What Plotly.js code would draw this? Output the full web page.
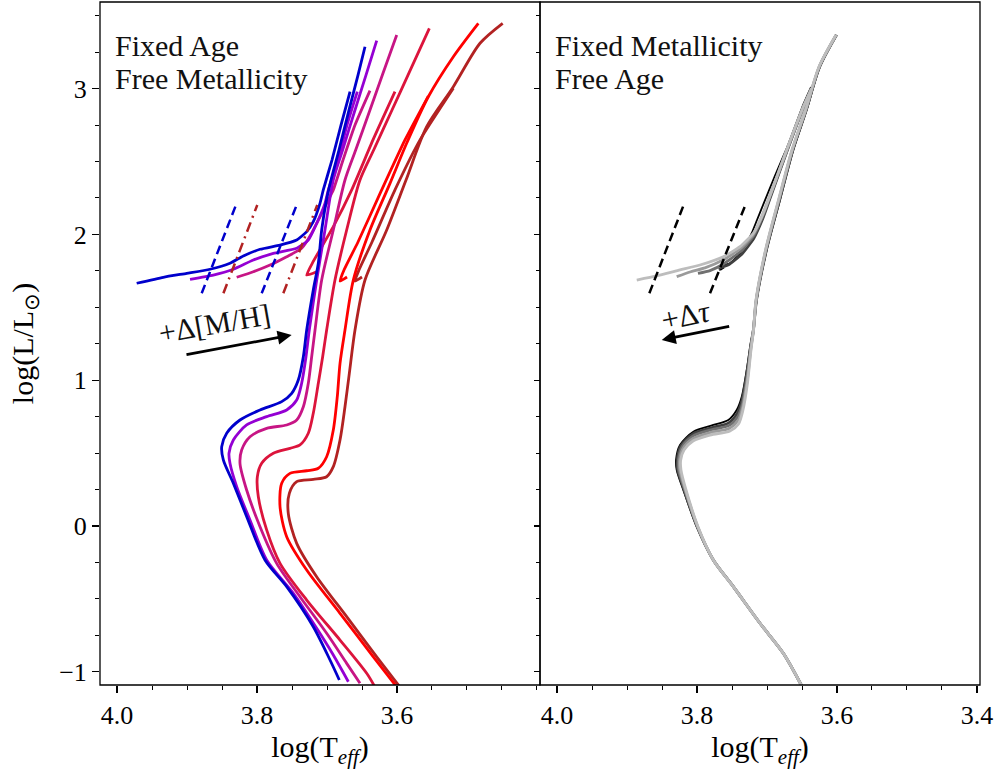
<!DOCTYPE html>
<html>
<head>
<meta charset="utf-8">
<script src="https://cdn.plot.ly/plotly-3.0.1.min.js"></script>
<style>
  html, body { margin: 0; padding: 0; background: #fff; }
  #chart { width: 1000px; height: 770px; }
</style>
</head>
<body>
<div id="chart"></div>
<script>
// ---- Fixed age, free metallicity: main sequence -> RGB tracks (log Teff, log L) ----
const blueMainT = [3.6824,3.6957,3.7196,3.7576,3.7886,3.8147,3.8338,3.8481,3.8504,3.8433,3.8243,3.7957,3.7647,3.7504,3.7410,3.7338,3.7290,3.7196,3.7124,3.7076,3.7007,3.6943,3.6829,3.6686,3.6557,3.6457];
const blueMainL = [-1.056,-0.919,-0.691,-0.416,-0.233,0.064,0.293,0.453,0.544,0.636,0.727,0.796,0.853,0.910,1.001,1.161,1.344,1.619,1.802,2.030,2.236,2.373,2.579,2.853,3.093,3.287];
const violetMainT = [3.6695,3.6910,3.7147,3.7481,3.7862,3.8100,3.8290,3.8386,3.8400,3.8338,3.8148,3.7862,3.7576,3.7433,3.7362,3.7300,3.7253,3.7147,3.7029,3.6910,3.6777,3.6600,3.6443,3.6290];
const violetMainL = [-1.068,-0.885,-0.702,-0.462,-0.233,0.041,0.270,0.430,0.499,0.590,0.693,0.750,0.796,0.864,0.979,1.161,1.344,1.687,2.030,2.373,2.579,2.853,3.093,3.329];
const magentaMainT = [3.6529,3.6719,3.7005,3.7386,3.7719,3.7957,3.8148,3.8243,3.8219,3.8100,3.7862,3.7576,3.7433,3.7338,3.7267,3.7219,3.7171,3.7076,3.6910,3.6743,3.6590,3.6386,3.6209,3.6004];
const magentaMainL = [-1.079,-0.942,-0.736,-0.485,-0.256,-0.005,0.247,0.430,0.521,0.612,0.670,0.693,0.727,0.818,0.979,1.161,1.344,1.687,2.030,2.373,2.579,2.853,3.093,3.368];
const crimsonMainT = [3.6320,3.6433,3.6814,3.7290,3.7671,3.7862,3.7981,3.7995,3.7933,3.7767,3.7529,3.7386,3.7267,3.7196,3.7124,3.7062,3.7005,3.6886,3.6719,3.6529,3.6333,3.6071,3.5843,3.5538];
const crimsonMainL = [-1.10,-1.010,-0.782,-0.508,-0.256,-0.027,0.201,0.338,0.430,0.499,0.533,0.556,0.636,0.773,0.979,1.161,1.344,1.687,2.030,2.373,2.579,2.853,3.093,3.413];
const redMainT = [3.6010,3.6338,3.6814,3.7290,3.7576,3.7671,3.7647,3.7529,3.7290,3.7124,3.7005,3.6910,3.6853,3.6814,3.6743,3.6624,3.6386,3.6100,3.5862,3.5553,3.5195,3.4838];
const redMainL = [-1.10,-0.897,-0.599,-0.302,-0.073,0.132,0.293,0.361,0.379,0.396,0.475,0.658,0.887,1.116,1.344,1.687,2.030,2.350,2.625,2.944,3.219,3.448];
const brownMainT = [3.5965,3.6290,3.6719,3.7148,3.7433,3.7553,3.7538,3.7433,3.7195,3.7005,3.6910,3.6814,3.6743,3.6681,3.6600,3.6457,3.6147,3.5871,3.5576,3.5195,3.4814,3.4490];
const brownMainL = [-1.10,-0.897,-0.622,-0.348,-0.119,0.087,0.224,0.304,0.320,0.338,0.407,0.590,0.818,1.047,1.344,1.687,2.030,2.373,2.739,3.013,3.311,3.448];

// ---- Fixed age: horizontal branch -> AGB tracks ----
const blueHbT = [3.9719,3.9339,3.9004,3.8671,3.8386,3.8195,3.7957,3.7671,3.7433,3.7290,3.7196,3.7100,3.7053,3.6929,3.6800,3.6671];
const blueHbL = [1.665,1.706,1.733,1.761,1.802,1.852,1.898,1.927,1.962,2.019,2.087,2.213,2.305,2.510,2.750,2.979];
const violetHbT = [3.8957,3.8624,3.8338,3.8053,3.7767,3.7433,3.7267,3.7147,3.7029,3.6981,3.6843,3.6714,3.6567];
const violetHbL = [1.692,1.721,1.761,1.824,1.870,1.905,1.961,2.076,2.213,2.305,2.510,2.750,2.979];
const magentaHbT = [3.8290,3.8053,3.7814,3.7576,3.7362,3.7219,3.7100,3.6981,3.6910,3.6771,3.6600,3.6386];
const magentaHbL = [1.706,1.744,1.790,1.847,1.905,2.008,2.121,2.236,2.305,2.510,2.750,2.986];
const crimsonHbT = [3.7147,3.7290,3.7200,3.6910,3.6647,3.6343,3.6029];
const crimsonHbL = [1.744,1.721,1.811,2.053,2.305,2.648,2.979];
const redHbT = [3.6714,3.6814,3.6757,3.6557,3.6219,3.5886,3.5553];
const redHbL = [1.708,1.680,1.756,1.948,2.305,2.648,2.949];
const brownHbT = [3.6500,3.6600,3.6543,3.6357,3.6029,3.5671,3.5195];
const brownHbL = [1.708,1.680,1.756,1.948,2.305,2.648,3.002];

// ---- Instability strip edges ----
const stripL = [1.596, 2.202];
const blueStripBlueT = [3.879, 3.830];
const blueStripRedT = [3.7933, 3.7433];
const brownStripBlueT = [3.848, 3.7996];
const brownStripRedT = [3.7624, 3.7139];
const greyStripL = [1.596, 2.195];
const greyStripBlueT = [3.8681, 3.8196];
const greyStripRedT = [3.7814, 3.7314];

// ---- Fixed metallicity, free age: main sequence -> RGB ----
const age1MainT = [3.650,3.6767,3.7100,3.7481,3.7767,3.8004,3.8196,3.8290,3.8300,3.8243,3.8053,3.7767,3.7553,3.7433,3.7361,3.7290,3.7233,3.7196,3.7147,3.7004,3.6814,3.6624,3.6433,3.6243,3.6004];
const age1MainL = [-1.10,-0.873,-0.667,-0.416,-0.233,-0.005,0.247,0.384,0.453,0.556,0.647,0.693,0.727,0.796,0.887,1.070,1.253,1.344,1.550,1.893,2.236,2.579,2.853,3.150,3.368];
const age2MainT = [3.650,3.6767,3.7100,3.7481,3.7767,3.7999,3.8185,3.8276,3.8283,3.8229,3.8055,3.7781,3.7547,3.7426,3.7357,3.7288,3.7232,3.7195,3.7150,3.7008,3.6820,3.6630,3.6440,3.6248,3.6008];
const age2MainL = [-1.10,-0.873,-0.667,-0.416,-0.233,-0.005,0.247,0.384,0.453,0.550,0.633,0.675,0.707,0.772,0.864,1.049,1.240,1.344,1.550,1.893,2.236,2.579,2.853,3.150,3.368];
const age3MainT = [3.650,3.6767,3.7100,3.7481,3.7767,3.7994,3.8175,3.8262,3.8266,3.8214,3.8055,3.7795,3.7540,3.7418,3.7350,3.7284,3.7231,3.7194,3.7153,3.7014,3.6828,3.6636,3.6445,3.6252,3.6010];
const age3MainL = [-1.10,-0.873,-0.667,-0.416,-0.233,-0.005,0.247,0.384,0.453,0.543,0.618,0.660,0.690,0.750,0.840,1.025,1.228,1.344,1.550,1.893,2.236,2.579,2.853,3.150,3.368];
const age4MainT = [3.650,3.6767,3.7100,3.7481,3.7767,3.7990,3.8166,3.8245,3.8249,3.8200,3.8056,3.7805,3.7535,3.7412,3.7346,3.7281,3.7230,3.7193,3.7155,3.7018,3.6832,3.6640,3.6447,3.6254,3.6012];
const age4MainL = [-1.10,-0.873,-0.667,-0.416,-0.233,-0.005,0.247,0.384,0.453,0.532,0.600,0.642,0.671,0.725,0.818,1.003,1.218,1.344,1.550,1.893,2.236,2.579,2.853,3.150,3.368];
const age5MainT = [3.650,3.6767,3.7100,3.7481,3.7767,3.7986,3.8157,3.8229,3.8233,3.8186,3.8057,3.7814,3.7529,3.7407,3.7343,3.7279,3.7229,3.7193,3.7157,3.7021,3.6836,3.6643,3.6450,3.6257,3.6014];
const age5MainL = [-1.10,-0.873,-0.667,-0.416,-0.233,-0.005,0.247,0.384,0.453,0.521,0.583,0.624,0.652,0.700,0.796,0.981,1.207,1.344,1.550,1.893,2.236,2.579,2.853,3.150,3.368];

// ---- Fixed metallicity: horizontal branch -> AGB ----
const age1HbT = [3.7614,3.7671,3.7636,3.7529,3.7386,3.7290,3.7219,3.7143,3.7050,3.6900,3.6700,3.6479,3.6371];
const age1HbL = [1.773,1.756,1.787,1.802,1.870,1.939,2.008,2.099,2.209,2.387,2.613,2.894,3.011];
const age2HbT = [3.7695,3.7557,3.7357,3.7186,3.7057,3.6914,3.6714,3.6486,3.6357];
const age2HbL = [1.767,1.790,1.866,1.975,2.112,2.305,2.572,2.867,3.004];
const age3HbT = [3.7986,3.7814,3.7600,3.7371,3.7193,3.7064,3.6921,3.6721,3.6493,3.6364];
const age3HbL = [1.733,1.752,1.804,1.886,1.989,2.119,2.305,2.565,2.853,2.997];
const age4HbT = [3.8290,3.8100,3.7886,3.7629,3.7386,3.7200,3.7071,3.6929,3.6729,3.6500,3.6371];
const age4HbL = [1.710,1.742,1.770,1.824,1.900,1.996,2.126,2.305,2.565,2.853,2.997];
const age5HbT = [3.8861,3.8576,3.8243,3.7957,3.7624,3.7386,3.7196,3.7053,3.6910,3.6719,3.6481,3.6361];
const age5HbL = [1.687,1.715,1.756,1.790,1.847,1.916,2.008,2.145,2.328,2.579,2.875,3.002];

const metalColors = ['#0000CC', '#9400D3', '#C71585', '#DC143C', '#FF0000', '#B22222'];
const ageColors = ['#000000', '#404040', '#707070', '#9a9a9a', '#bdbdbd'];

const FONT = 'Liberation Serif, Times New Roman, serif';

function track(x, y, color, xaxis, width, dash, smooth) {
  return {
    type: 'scatter', mode: 'lines', x: x, y: y, xaxis: xaxis, yaxis: 'y',
    line: { color: color, width: width, dash: dash || 'solid',
            shape: smooth === 0 ? 'linear' : 'spline', smoothing: smooth === undefined ? 0.8 : smooth },
    hoverinfo: 'skip', showlegend: false
  };
}

const traces = [];
const mains = [[blueMainT, blueMainL], [violetMainT, violetMainL], [magentaMainT, magentaMainL],
               [crimsonMainT, crimsonMainL], [redMainT, redMainL], [brownMainT, brownMainL]];
const hbs = [[blueHbT, blueHbL], [violetHbT, violetHbL], [magentaHbT, magentaHbL],
             [crimsonHbT, crimsonHbL], [redHbT, redHbL], [brownHbT, brownHbL]];
for (let i = mains.length - 1; i >= 0; i--) {
  traces.push(track(mains[i][0], mains[i][1], metalColors[i], 'x', 2.8));
  traces.push(track(hbs[i][0], hbs[i][1], metalColors[i], 'x', 2.8, 'solid', 0.5));
}
traces.push(track(blueStripBlueT, stripL, '#0000CC', 'x', 2.5, '9px,5px', 0));
traces.push(track(blueStripRedT, stripL, '#0000CC', 'x', 2.5, '9px,5px', 0));
traces.push(track(brownStripBlueT, stripL, '#B22222', 'x', 2.5, '10px,5px,2px,5px', 0));
traces.push(track(brownStripRedT, stripL, '#B22222', 'x', 2.5, '10px,5px,2px,5px', 0));

const ageMains = [[age1MainT, age1MainL], [age2MainT, age2MainL], [age3MainT, age3MainL],
                  [age4MainT, age4MainL], [age5MainT, age5MainL]];
const ageHbs = [[age1HbT, age1HbL], [age2HbT, age2HbL], [age3HbT, age3HbL],
                [age4HbT, age4HbL], [age5HbT, age5HbL]];
for (let i = 0; i < ageMains.length; i++) {
  const w = i === 0 ? 1.8 : 2.8;
  traces.push(track(ageMains[i][0], ageMains[i][1], ageColors[i], 'x2', w));
  traces.push(track(ageHbs[i][0], ageHbs[i][1], ageColors[i], 'x2', w, 'solid', 0.5));
}
traces.push(track(greyStripBlueT, greyStripL, '#000000', 'x2', 2.5, '9px,5px', 0));
traces.push(track(greyStripRedT, greyStripL, '#000000', 'x2', 2.5, '9px,5px', 0));

// empty trace so the inner-tick overlay axis gets drawn
traces.push({ type: 'scatter', mode: 'lines', x: [], y: [], xaxis: 'x', yaxis: 'y2', showlegend: false, hoverinfo: 'skip' });

const teffRange = [4.0243, 3.3957];
const lumRange = [-1.0905, 3.594];

const xCommon = {
  range: teffRange, showgrid: false, zeroline: false, showline: false,
  ticks: 'outside', ticklen: 7, tickwidth: 1.2, tickcolor: '#000',
  tickmode: 'array', tickformat: '.1f',
  tickfont: { family: FONT, size: 26, color: '#000' },
  minor: { tickmode: 'linear', tick0: 4.0, dtick: 0.05, ticks: 'outside', ticklen: 4, tickwidth: 1, tickcolor: '#000', showgrid: false },
  title: { text: 'log(T<sub><i>eff</i></sub>)', font: { family: FONT, size: 30, color: '#000' }, standoff: 2 },
  anchor: 'y', fixedrange: true
};

const layout = {
  width: 1000, height: 770,
  margin: { l: 100, r: 20, t: 2, b: 85 },
  paper_bgcolor: '#fff', plot_bgcolor: '#fff',
  font: { family: FONT, color: '#000' },
  showlegend: false,
  xaxis: Object.assign({}, xCommon, { domain: [0, 0.5], tickvals: [4.0, 3.8, 3.6] }),
  xaxis2: Object.assign({}, xCommon, { domain: [0.5, 1], tickvals: [4.0, 3.8, 3.6, 3.4] }),
  yaxis: {
    range: lumRange, domain: [0, 1], anchor: 'x', showgrid: false, zeroline: false, showline: false,
    ticks: 'outside', ticklen: 7, tickwidth: 1.2, tickcolor: '#000',
    tickmode: 'linear', tick0: 0, dtick: 1,
    tickfont: { family: FONT, size: 26, color: '#000' },
    minor: { dtick: 0.25, ticks: 'outside', ticklen: 4, tickwidth: 1, tickcolor: '#000', showgrid: false },
    title: { text: 'log(L/L<sub>⊙</sub>)', font: { family: FONT, size: 30, color: '#000' }, standoff: 16 },
    fixedrange: true
  },
  yaxis2: {
    range: lumRange, overlaying: 'y', anchor: 'x', side: 'right',
    showgrid: false, zeroline: false, showline: false, showticklabels: false,
    ticks: 'inside', ticklen: 6, tickwidth: 1.2, tickcolor: '#000',
    tickmode: 'linear', tick0: 0, dtick: 1,
    minor: { dtick: 0.25, ticks: 'inside', ticklen: 4, tickwidth: 1, tickcolor: '#000', showgrid: false },
    fixedrange: true
  },
  shapes: [
    { type: 'rect', xref: 'paper', yref: 'paper', x0: 0, x1: 0.5, y0: 0, y1: 1, line: { color: '#000', width: 1.3 }, layer: 'above' },
    { type: 'rect', xref: 'paper', yref: 'paper', x0: 0.5, x1: 1, y0: 0, y1: 1, line: { color: '#000', width: 1.3 }, layer: 'above' }
  ],
  annotations: [
    { xref: 'x domain', yref: 'y domain', x: 0.030, y: 0.937, xanchor: 'left', yanchor: 'middle', showarrow: false,
      text: 'Fixed Age', font: { family: FONT, size: 30, color: '#111' } },
    { xref: 'x domain', yref: 'y domain', x: 0.030, y: 0.888, xanchor: 'left', yanchor: 'middle', showarrow: false,
      text: 'Free Metallicity', font: { family: FONT, size: 30, color: '#111' } },
    { xref: 'x2 domain', yref: 'y domain', x: 0.030, y: 0.937, xanchor: 'left', yanchor: 'middle', showarrow: false,
      text: 'Fixed Metallicity', font: { family: FONT, size: 30, color: '#111' } },
    { xref: 'x2 domain', yref: 'y domain', x: 0.030, y: 0.888, xanchor: 'left', yanchor: 'middle', showarrow: false,
      text: 'Free Age', font: { family: FONT, size: 30, color: '#111' } },
    // metallicity arrow
    { xref: 'x', yref: 'y', axref: 'x', ayref: 'y', x: 3.7505, y: 1.310, ax: 3.9029, ay: 1.173,
      showarrow: true, arrowhead: 2, arrowsize: 1, arrowwidth: 2.8, arrowcolor: '#000', standoff: 0, text: '' },
    { xref: 'x', yref: 'y', x: 3.8614, y: 1.392, showarrow: false, textangle: -10,
      text: '+Δ[M/H]', font: { family: FONT, size: 30, color: '#111' } },
    // age arrow
    { xref: 'x2', yref: 'y', axref: 'x2', ayref: 'y', x: 3.8504, y: 1.276, ax: 3.7519, ay: 1.372,
      showarrow: true, arrowhead: 2, arrowsize: 1, arrowwidth: 2.8, arrowcolor: '#000', standoff: 0, text: '' },
    { xref: 'x2', yref: 'y', x: 3.8157, y: 1.445, showarrow: false, textangle: -12,
      text: '+Δ<i>τ</i>', font: { family: FONT, size: 31, color: '#111' } }
  ]
};

Plotly.newPlot('chart', traces, layout, { staticPlot: true, displayModeBar: false });
</script>
</body>
</html>
